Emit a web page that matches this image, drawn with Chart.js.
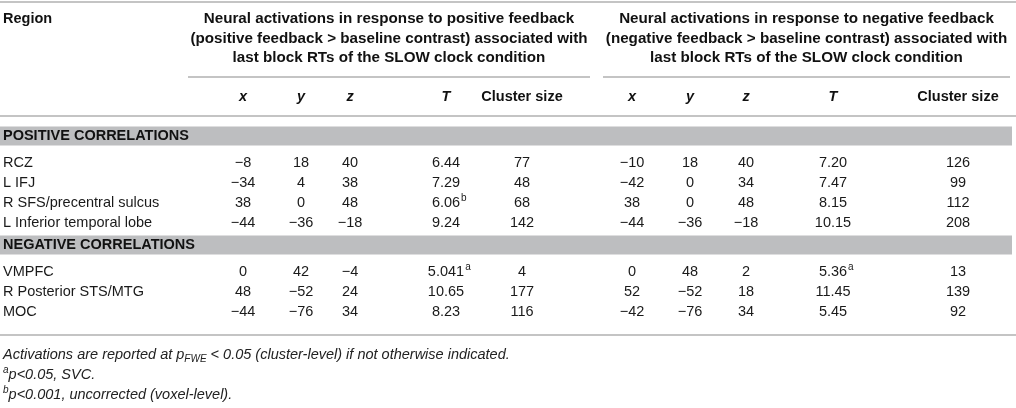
<!DOCTYPE html>
<html>
<head>
<meta charset="utf-8">
<script src="https://cdn.jsdelivr.net/npm/chart.js@4.4.1/dist/chart.umd.min.js"></script>
<style>
  html, body { margin: 0; padding: 0; background: #fff; }
  #wrap { width: 1016px; height: 408px; }
</style>
</head>
<body>
<div id="wrap"><canvas id="table" width="1016" height="408"></canvas></div>
<script>
// table content
const regions = ['RCZ', 'L IFJ', 'R SFS/precentral sulcus', 'L Inferior temporal lobe',
  'VMPFC', 'R Posterior STS/MTG', 'MOC'];

const posX = [-8, -34, 38, -44, 0, 48, -44];
const posY = [18, 4, 0, -36, 42, -52, -76];
const posZ = [40, 38, 48, -18, -4, 24, 34];
const posT = ['6.44', '7.29', '6.06', '9.24', '5.041', '10.65', '8.23'];
const posTNote = ['', '', 'b', '', 'a', '', ''];
const posSize = [77, 48, 68, 142, 4, 177, 116];

const negX = [-10, -42, 38, -44, 0, 52, -42];
const negY = [18, 0, 0, -36, 48, -52, -76];
const negZ = [40, 34, 48, -18, 2, 18, 34];
const negT = ['7.20', '7.47', '8.15', '10.15', '5.36', '11.45', '5.45'];
const negTNote = ['', '', '', '', 'a', '', ''];
const negSize = [126, 99, 112, 208, 13, 139, 92];

const groupHeads = [
  ['Neural activations in response to positive feedback',
   '(positive feedback > baseline contrast) associated with',
   'last block RTs of the SLOW clock condition'],
  ['Neural activations in response to negative feedback',
   '(negative feedback > baseline contrast) associated with',
   'last block RTs of the SLOW clock condition']
];
const subHeads = ['x', 'y', 'z', 'T', 'Cluster size'];
const sections = ['POSITIVE CORRELATIONS', 'NEGATIVE CORRELATIONS'];

// layout (pixel units, the scales run 0..width / 0..height)
const W = 1016, H = 408;
const FONT = '"Liberation Sans", Arial, sans-serif';
const colLeft = [243, 301, 350, 446, 522];
const colRight = [632, 690, 746, 833, 958];
const rowY = [163, 183, 203, 223, 272, 292, 312];
const headY = [19, 39, 58];
const subY = 97;
const bandY = [136, 245];
const groupSpan = [[188, 590], [603, 1010]];
const footY = [355, 375, 395];

const fmt = v => (v < 0 ? '\u2212' + Math.abs(v) : String(v));

function column(xPos, values, notes) {
  return {
    data: rowY.map(yy => ({ x: xPos, y: yy })),
    cells: values.map(v => (typeof v === 'number' ? fmt(v) : v)),
    notes: notes || null,
    align: 'center',
    pointRadius: 0,
    showLine: false
  };
}

const datasets = [
  Object.assign(column(3, regions), { align: 'left' }),
  column(colLeft[0], posX), column(colLeft[1], posY), column(colLeft[2], posZ),
  column(colLeft[3], posT, posTNote), column(colLeft[4], posSize),
  column(colRight[0], negX), column(colRight[1], negY), column(colRight[2], negZ),
  column(colRight[3], negT, negTNote), column(colRight[4], negSize)
];

function hRule(ctx, sx, sy, x0, x1, yv, w, color) {
  ctx.strokeStyle = color;
  ctx.lineWidth = w;
  ctx.beginPath();
  ctx.moveTo(sx.getPixelForValue(x0), sy.getPixelForValue(yv));
  ctx.lineTo(sx.getPixelForValue(x1), sy.getPixelForValue(yv));
  ctx.stroke();
}

// draws a run of text pieces [text, font, dy] starting at px
function drawRun(ctx, pieces, px, py) {
  pieces.forEach(p => {
    ctx.font = p[1];
    ctx.fillText(p[0], px, py + (p[2] || 0));
    px += ctx.measureText(p[0]).width;
  });
}

const tablePlugin = {
  id: 'tablePlugin',
  beforeDatasetsDraw(chart) {
    const { ctx, scales: { x, y } } = chart;
    ctx.save();
    // section bands
    ctx.fillStyle = '#bdbec0';
    bandY.forEach(b => {
      const t = y.getPixelForValue(b - 9.5), bt = y.getPixelForValue(b + 9.5);
      ctx.fillRect(x.getPixelForValue(0), t, x.getPixelForValue(1012) - x.getPixelForValue(0), bt - t);
    });
    // rules
    hRule(ctx, x, y, 0, W, 2, 2, '#c4c4c4');
    groupSpan.forEach(g => hRule(ctx, x, y, g[0], g[1], 77, 2, '#c4c4c4'));
    hRule(ctx, x, y, 0, W, 116, 2, '#c4c4c4');
    hRule(ctx, x, y, 0, W, 335, 2, '#c4c4c4');

    ctx.fillStyle = '#111';
    ctx.textBaseline = 'middle';
    // header
    ctx.font = 'bold 14.5px ' + FONT;
    ctx.textAlign = 'left';
    ctx.fillText('Region', x.getPixelForValue(3), y.getPixelForValue(headY[0]));
    ctx.textAlign = 'center';
    ctx.font = 'bold 15.2px ' + FONT;
    groupHeads.forEach((lines, gi) => {
      const cx = (groupSpan[gi][0] + groupSpan[gi][1]) / 2;
      lines.forEach((ln, li) => ctx.fillText(ln, x.getPixelForValue(cx), y.getPixelForValue(headY[li])));
    });
    [colLeft, colRight].forEach(cols => {
      subHeads.forEach((s, i) => {
        ctx.font = (i < 4 ? 'italic bold 14.5px ' : 'bold 14.5px ') + FONT;
        ctx.fillText(s, x.getPixelForValue(cols[i]), y.getPixelForValue(subY));
      });
    });
    // section labels
    ctx.textAlign = 'left';
    ctx.font = 'bold 14.5px ' + FONT;
    sections.forEach((s, i) => ctx.fillText(s, x.getPixelForValue(3), y.getPixelForValue(bandY[i])));

    // footnotes
    const it = 'italic 14.5px ' + FONT, sm = 'italic 10px ' + FONT;
    ctx.fillStyle = '#222';
    const fx = x.getPixelForValue(3);
    drawRun(ctx, [['Activations are reported at ', it], ['p', it], ['FWE', sm, 4],
      [' < 0.05 (cluster-level) if not otherwise indicated.', it]], fx, y.getPixelForValue(footY[0]));
    drawRun(ctx, [['a', sm, -5], ['p<0.05, SVC.', it]], fx, y.getPixelForValue(footY[1]));
    drawRun(ctx, [['b', sm, -5], ['p<0.001, uncorrected (voxel-level).', it]], fx, y.getPixelForValue(footY[2]));
    ctx.restore();
  },
  afterDatasetsDraw(chart) {
    const ctx = chart.ctx;
    ctx.save();
    ctx.fillStyle = '#1a1a1a';
    ctx.textBaseline = 'middle';
    chart.data.datasets.forEach((ds, i) => {
      chart.getDatasetMeta(i).data.forEach((pt, j) => {
        ctx.font = '14.5px ' + FONT;
        ctx.textAlign = ds.align;
        const txt = ds.cells[j];
        ctx.fillText(txt, pt.x, pt.y);
        const note = ds.notes ? ds.notes[j] : '';
        if (note) {
          const w = ctx.measureText(txt).width;
          ctx.font = '10px ' + FONT;
          ctx.textAlign = 'left';
          ctx.fillText(note, pt.x + w / 2 + 1, pt.y - 5);
        }
      });
    });
    ctx.restore();
  }
};

new Chart(document.getElementById('table'), {
  type: 'scatter',
  data: { datasets: datasets },
  options: {
    responsive: false,
    animation: false,
    layout: { padding: 0 },
    scales: {
      x: { type: 'linear', min: 0, max: W, display: false },
      y: { type: 'linear', min: 0, max: H, reverse: true, display: false }
    },
    plugins: { legend: { display: false }, tooltip: { enabled: false } },
    events: []
  },
  plugins: [tablePlugin]
});
</script>
</body>
</html>
